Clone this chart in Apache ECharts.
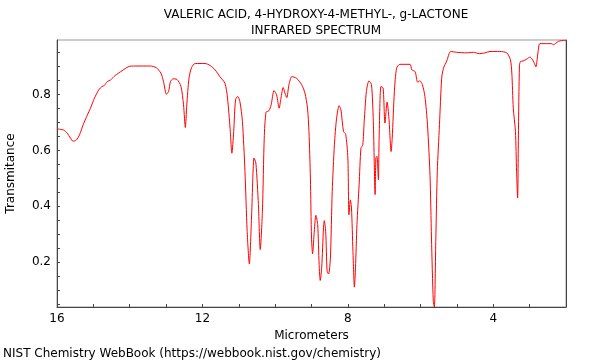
<!DOCTYPE html>
<html>
<head>
<meta charset="utf-8">
<script src="https://cdn.jsdelivr.net/npm/echarts@6/dist/echarts.min.js"></script>
<style>
html,body{margin:0;padding:0;background:#fff;}
#chart{width:600px;height:360px;}
</style>
</head>
<body>
<div id="chart"></div>
<script>
var titleLines = ['VALERIC ACID, 4-HYDROXY-4-METHYL-, g-LACTONE', 'INFRARED SPECTRUM'];
var xAxisTitle = 'Micrometers';
var yAxisTitle = 'Transmitance';
var footerText = 'NIST Chemistry WebBook (https://webbook.nist.gov/chemistry)';
var xLabelValues = [16, 12, 8, 4];
var yLabelValues = [0.2, 0.4, 0.6, 0.8];

var micrometers = [16.00,15.82,15.72,15.63,15.56,15.47,15.38,15.28,15.17,15.08,14.97,14.85,14.76,14.70,14.62,14.53,14.40,14.21,14.00,13.80,13.43,13.27,13.14,13.07,12.99,12.93,12.88,12.81,12.70,12.59,12.52,12.47,12.43,12.37,12.30,12.20,11.93,11.79,11.65,11.52,11.38,11.31,11.24,11.19,11.14,11.09,11.03,10.97,10.90,10.83,10.77,10.71,10.65,10.58,10.53,10.46,10.41,10.35,10.30,10.25,10.17,10.11,10.03,9.96,9.89,9.84,9.78,9.73,9.68,9.62,9.54,9.41,9.27,9.18,9.11,9.07,9.03,9.00,8.97,8.93,8.88,8.83,8.79,8.76,8.72,8.67,8.65,8.61,8.57,8.53,8.48,8.43,8.37,8.31,8.24,8.19,8.12,8.06,8.00,7.97,7.93,7.90,7.86,7.82,7.79,7.75,7.69,7.64,7.59,7.55,7.49,7.42,7.35,7.30,7.25,7.23,7.20,7.16,7.14,7.09,7.03,6.98,6.92,6.87,6.81,6.78,6.72,6.66,6.57,6.29,6.24,6.15,6.08,6.02,5.95,5.88,5.81,5.74,5.70,5.65,5.62,5.58,5.54,5.48,5.42,5.37,5.28,5.17,5.01,4.73,4.55,4.38,4.23,4.09,3.82,3.63,3.53,3.49,3.45,3.39,3.36,3.33,3.31,3.28,3.25,3.18,3.08,2.99,2.94,2.88,2.83,2.76,2.72,2.53,2.40,2.35,2.21,2.03,2.00];
var transmittance = [0.677,0.673,0.662,0.644,0.633,0.637,0.656,0.692,0.725,0.751,0.787,0.817,0.829,0.832,0.846,0.852,0.868,0.885,0.901,0.902,0.902,0.896,0.876,0.846,0.801,0.811,0.846,0.856,0.854,0.829,0.763,0.682,0.763,0.858,0.896,0.911,0.911,0.904,0.888,0.864,0.840,0.787,0.680,0.590,0.668,0.781,0.793,0.775,0.704,0.525,0.311,0.194,0.358,0.573,0.555,0.406,0.245,0.382,0.644,0.737,0.742,0.763,0.814,0.799,0.751,0.787,0.825,0.805,0.789,0.835,0.864,0.858,0.835,0.805,0.751,0.668,0.501,0.287,0.230,0.299,0.368,0.335,0.192,0.135,0.180,0.323,0.349,0.311,0.168,0.158,0.215,0.454,0.620,0.715,0.760,0.745,0.668,0.658,0.573,0.370,0.423,0.394,0.239,0.111,0.180,0.335,0.477,0.608,0.620,0.704,0.811,0.849,0.835,0.704,0.442,0.573,0.579,0.495,0.644,0.829,0.823,0.698,0.773,0.715,0.596,0.644,0.811,0.894,0.908,0.908,0.888,0.882,0.844,0.849,0.835,0.793,0.692,0.510,0.287,0.060,0.040,0.287,0.525,0.692,0.858,0.894,0.920,0.954,0.951,0.949,0.951,0.946,0.949,0.954,0.954,0.949,0.925,0.877,0.751,0.668,0.525,0.430,0.644,0.905,0.918,0.920,0.927,0.934,0.928,0.915,0.899,0.961,0.982,0.982,0.982,0.978,0.990,0.994,0.994];

var yMin = 0.04, yMax = 0.995, yTickStart = 0.05, yTickStep = 0.05;

var seriesData = micrometers.map(function (x, i) { return [x, transmittance[i]]; });

function inList(v, list) {
  for (var i = 0; i < list.length; i++) { if (Math.abs(v - list[i]) < 1e-6) return true; }
  return false;
}

var plotTop = 40, plotBottomPx = 307;
var pxPerUnit = (plotBottomPx - plotTop) / (yMax - yMin);
var tickGridBottom = 360 - (plotBottomPx - (yTickStart - yMin) * pxPerUnit);

var chart = echarts.init(document.getElementById('chart'), null, {renderer: 'canvas'});
var font = 'DejaVu Sans';
chart.setOption({
  animation: false,
  backgroundColor: '#ffffff',
  textStyle: {fontFamily: font},
  title: {
    text: titleLines.join('\n'),
    left: 311, top: 2, textAlign: 'center',
    textStyle: {fontFamily: font, fontSize: 12, fontWeight: 'normal', color: '#000', lineHeight: 16}
  },
  grid: [
    {left: 57, right: 34, top: plotTop, bottom: 360 - plotBottomPx, show: true, borderColor: '#999', borderWidth: 1, backgroundColor: 'transparent', outerBoundsMode: 'none', containLabel: false},
    {left: 57, right: 34, top: plotTop, bottom: tickGridBottom, show: false, outerBoundsMode: 'none', containLabel: false}
  ],
  xAxis: [{
    gridIndex: 0,
    type: 'value', inverse: true, min: 2, max: 16, interval: 1,
    name: xAxisTitle, nameLocation: 'middle', nameGap: 18,
    nameTextStyle: {fontFamily: font, fontSize: 12, color: '#000'},
    axisLine: {show: true, onZero: false, lineStyle: {color: '#444', width: 1}},
    axisTick: {show: true, inside: true, length: 3, lineStyle: {color: '#444'}},
    axisLabel: {show: true, showMinLabel: true, showMaxLabel: true, fontFamily: font, fontSize: 12, color: '#000', margin: 6,
      formatter: function (v) { return inList(v, xLabelValues) ? String(v) : ''; }},
    splitLine: {show: false}
  }, {
    gridIndex: 1, type: 'value', min: 2, max: 16, show: false
  }],
  yAxis: [{
    gridIndex: 0,
    type: 'value', min: yMin, max: yMax,
    name: yAxisTitle, nameLocation: 'middle', nameGap: 40,
    nameTextStyle: {fontFamily: font, fontSize: 12, color: '#000'},
    axisLine: {show: true, onZero: false, lineStyle: {color: '#444', width: 1}},
    axisTick: {show: false}, axisLabel: {show: false},
    splitLine: {show: false}
  }, {
    gridIndex: 0,
    type: 'value', min: yMin, max: yMax, position: 'right',
    axisLine: {show: true, onZero: false, lineStyle: {color: '#444', width: 1}},
    axisTick: {show: false}, axisLabel: {show: false}, splitLine: {show: false}
  }, {
    gridIndex: 1,
    type: 'value', min: yTickStart, max: yMax, interval: yTickStep, position: 'left',
    axisLine: {show: false},
    axisTick: {show: true, inside: true, length: 3, lineStyle: {color: '#444'}},
    axisLabel: {show: true, showMinLabel: true, showMaxLabel: false, fontFamily: font, fontSize: 12, color: '#000', margin: 6,
      formatter: function (v) { return inList(v, yLabelValues) ? v.toFixed(1) : ''; }},
    splitLine: {show: false}
  }],
  series: [{
    type: 'line', data: seriesData, xAxisIndex: 0, yAxisIndex: 0,
    showSymbol: false, symbol: 'none', smooth: 0.25,
    lineStyle: {color: '#ff0000', width: 1},
    clip: true
  }],
  graphic: [{
    type: 'text', left: 3, top: 348,
    style: {text: footerText, fontFamily: font, fontSize: 12, fill: '#000'}
  }]
});
</script>
</body>
</html>
